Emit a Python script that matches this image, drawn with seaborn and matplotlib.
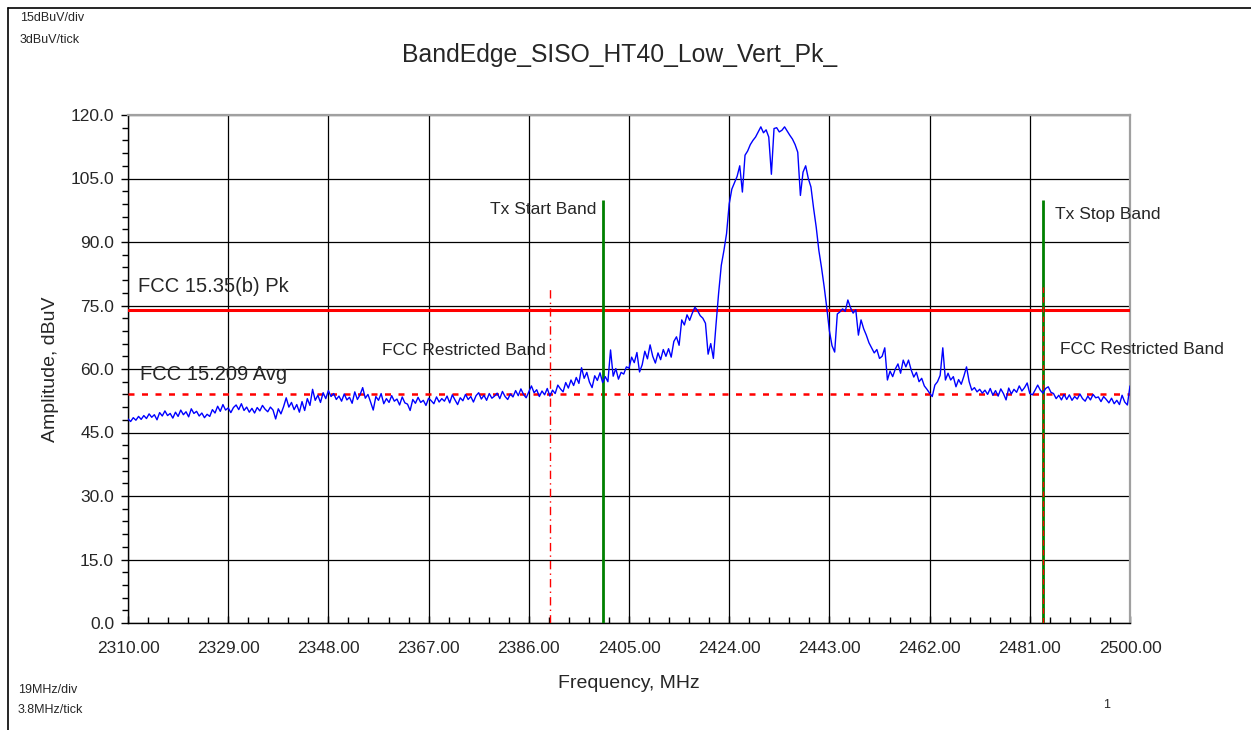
import numpy as np
import pandas as pd
import matplotlib
matplotlib.use("Agg")
import matplotlib.pyplot as plt
from matplotlib.lines import Line2D
from matplotlib.ticker import MultipleLocator, FormatStrFormatter
import seaborn as sns

# Sweep settings (MHz)
f_start = 2310.0
f_stop = 2500.0
f_div = 19.0      # MHz per division
f_tick = 3.8      # MHz per minor tick
a_div = 15.0      # dBuV per division
a_tick = 3.0      # dBuV per minor tick

# Measured peak amplitude (dBuV), one reading every 0.5 MHz from 2310 to 2500 MHz
amplitude = [
    # 2310 - 2320
    48.2, 47.6, 48.5, 47.9, 48.8, 48.1, 49.0, 48.3, 49.4, 48.6, 49.2, 48.0, 49.7, 48.9, 50.1, 49.0, 49.5, 48.4, 49.8, 48.8,
    # 2320 - 2330
    50.3, 49.2, 49.9, 48.7, 50.6, 49.5, 50.0, 48.9, 49.6, 48.5, 49.3, 48.8, 50.4, 49.6, 51.2, 50.0, 51.6, 50.3, 50.8, 49.7,
    # 2330 - 2340
    50.9, 51.5, 50.4, 51.8, 50.2, 51.0, 49.8, 50.7, 49.6, 50.9, 50.1, 51.4, 50.5, 49.9, 51.0, 50.3, 48.2, 50.6, 49.4, 51.1,
    # 2340 - 2350
    53.2, 51.0, 52.1, 50.4, 51.6, 49.8, 52.3, 50.2, 53.0, 51.4, 55.2, 52.6, 53.8, 52.1, 54.4, 53.0, 54.9, 53.5, 54.2, 52.8,
    # 2350 - 2360
    53.6, 52.4, 54.1, 52.7, 53.3, 51.9, 54.6, 52.8, 53.9, 55.6, 53.1, 54.0, 52.2, 50.3, 53.5, 52.6, 54.2, 51.8, 53.0, 52.1,
    # 2360 - 2370
    53.7, 52.4, 52.9, 51.5, 53.4, 52.0, 51.7, 50.2, 52.8, 51.9, 53.3, 52.1, 52.6, 51.4, 53.1, 52.5, 51.8, 53.4, 52.2, 53.0,
    # 2370 - 2380
    52.4, 53.6, 52.0, 53.9, 52.7, 51.6, 53.2, 52.5, 54.0, 52.8, 53.5, 52.2, 53.7, 54.4, 52.9, 53.8, 52.6, 54.2, 53.1, 53.6,
    # 2380 - 2390
    54.3, 53.0, 54.7, 53.5, 52.8, 54.1, 53.4, 54.9, 53.7, 55.3, 54.0, 53.2, 54.6, 56.0, 54.4, 55.1, 53.5, 54.8, 53.9, 55.4,
    # 2390 - 2400
    53.6, 55.0, 54.2, 56.2, 55.3, 54.6, 56.8, 55.5, 57.4, 56.1, 58.0, 56.6, 60.3, 57.8, 59.2, 56.9, 55.6, 58.4, 57.3, 59.1,
    # 2400 - 2410
    56.8, 58.2, 57.0, 64.5, 58.3, 60.1, 57.6, 59.2, 58.8, 60.5, 60.2, 62.8, 61.5, 63.9, 59.3, 61.0, 64.2, 62.4, 65.7, 63.0,
    # 2410 - 2420
    61.4, 63.8, 62.2, 64.6, 63.0, 64.8, 62.8, 66.5, 67.6, 65.6, 71.6, 70.4, 72.8, 71.5, 73.2, 74.6, 73.8, 72.6, 72.0, 70.8,
    # 2420 - 2430
    63.5, 66.0, 62.5, 70.5, 78.0, 84.5, 88.0, 92.0, 99.0, 102.5, 104.0, 105.5, 108.0, 101.8, 110.5, 111.5, 113.0, 114.0, 114.8, 116.0,
    # 2430 - 2440
    117.2, 115.8, 116.5, 114.8, 106.0, 116.8, 117.0, 116.0, 116.4, 117.2, 116.2, 115.2, 114.3, 113.0, 111.2, 101.0, 106.5, 108.0, 105.0, 103.0,
    # 2440 - 2450
    98.0, 93.5, 88.0, 84.0, 79.5, 74.5, 69.0, 65.5, 64.0, 73.0, 73.5, 74.2, 73.6, 76.3, 74.5, 73.2, 74.0, 68.0, 71.6, 69.5,
    # 2450 - 2460
    68.0, 66.2, 65.0, 63.8, 64.6, 62.5, 63.0, 65.0, 57.4, 59.5, 58.2, 60.0, 61.2, 59.0, 62.1, 60.5, 62.1, 59.8, 58.1, 59.2,
    # 2460 - 2470
    57.0, 57.8, 56.0, 55.2, 54.3, 53.5, 56.2, 57.0, 58.5, 65.0, 57.4, 59.0, 57.4, 58.2, 55.8, 57.5, 56.4, 58.3, 60.5, 57.0,
    # 2470 - 2480
    55.0, 55.6, 54.6, 55.2, 54.3, 55.0, 54.0, 55.4, 53.8, 54.9, 53.6, 55.3, 54.2, 52.7, 55.5, 54.1, 55.2, 54.5, 56.0, 54.8,
    # 2480 - 2490
    55.6, 56.7, 54.2, 53.9, 55.0, 56.2, 55.0, 54.3, 55.4, 55.8, 54.5, 54.2, 53.0, 53.8, 52.7, 54.0, 52.8, 53.9, 52.6, 53.5,
    # 2490 - 2500
    52.9, 54.1, 53.0, 52.4, 53.6, 52.7, 54.0, 53.2, 53.4, 52.3, 53.5, 52.8, 52.0, 53.1, 51.8, 52.6, 51.6, 53.8, 52.2, 51.5,
    56.0,
]

# Limit lines (dBuV)
limit_peak = 74.0
limit_avg = 54.0

# Band markers (MHz) and their heights (dBuV)
restricted_edges = [2390.0, 2483.5]
restricted_height = 79.5
tx_band_edges = [2400.0, 2483.5]
tx_band_height = 100.0

title = "BandEdge_SISO_HT40_Low_Vert_Pk_"

freq = np.linspace(f_start, f_stop, len(amplitude))
df = pd.DataFrame({"Frequency, MHz": freq, "Amplitude, dBuV": amplitude})

sns.set_theme(style="white")
plt.rcParams["font.family"] = ["Liberation Sans", "DejaVu Sans"]

fig = plt.figure(figsize=(12.51, 7.30), dpi=100)
ax = fig.add_axes([128 / 1251, 107 / 730, 1002 / 1251, 508 / 730])

# grid: divisions are counted from the start of the sweep
ax.set_xlim(f_start, f_stop)
ax.set_ylim(0, 120)
ax.xaxis.set_major_locator(MultipleLocator(f_div, offset=f_start % f_div))
ax.xaxis.set_minor_locator(MultipleLocator(f_tick, offset=f_start % f_tick))
ax.yaxis.set_major_locator(MultipleLocator(a_div))
ax.yaxis.set_minor_locator(MultipleLocator(a_tick))
ax.xaxis.set_major_formatter(FormatStrFormatter("%.2f"))
ax.yaxis.set_major_formatter(FormatStrFormatter("%.1f"))
ax.grid(True, which="major", color="black", linewidth=0.9)
ax.set_axisbelow(True)

# limit lines
ax.axhline(limit_peak, color="#ff0000", linewidth=2.2, zorder=3)
ax.axhline(limit_avg, color="#ff0000", linewidth=1.8, dashes=(2.4, 3.0), zorder=3)

# band edge markers
ax.vlines(tx_band_edges, 0, tx_band_height, color="#008000", linewidth=2.0, zorder=3)
ax.vlines(restricted_edges[0], 0, restricted_height, color="#ff0000",
          linewidth=1.0, linestyles=(0, (6, 3, 1, 3)), zorder=3)
ax.vlines(restricted_edges[1], 0, restricted_height, color="#ff0000",
          linewidth=1.0, linestyles=(0, (4, 3)), zorder=4)

# measured trace
sns.lineplot(data=df, x="Frequency, MHz", y="Amplitude, dBuV", color="#0000ff",
             linewidth=1.0, estimator=None, ax=ax, zorder=5)

ax.set_xlabel("Frequency, MHz", fontsize=14, labelpad=14)
ax.set_ylabel("Amplitude, dBuV", fontsize=14, labelpad=8)

ax.tick_params(axis="y", which="major", direction="out", length=5, width=1,
               color="black", labelsize=12.5, pad=5, left=True)
ax.tick_params(axis="y", which="minor", direction="out", length=4, width=1,
               color="black", left=True)
ax.tick_params(axis="x", which="major", direction="in", length=5, width=1,
               color="black", labelsize=12.5, pad=13, bottom=True)
ax.tick_params(axis="x", which="minor", direction="in", length=4, width=1,
               color="black", bottom=True)

for side in ("left", "bottom"):
    ax.spines[side].set_color("black")
    ax.spines[side].set_linewidth(1.0)
for side in ("top", "right"):
    ax.spines[side].set_color("#a0a0a0")
    ax.spines[side].set_linewidth(1.6)

# annotations
ax.text(2311.9, 79.4, "FCC 15.35(b) Pk", fontsize=14.5, va="center", ha="left")
ax.text(2312.3, 58.6, "FCC 15.209 Avg", fontsize=14.5, va="center", ha="left")
ax.text(2389.3, 64.3, "FCC Restricted Band", fontsize=12.5, va="center", ha="right")
ax.text(2398.9, 97.6, "Tx Start Band", fontsize=12.5, va="center", ha="right")
ax.text(2485.8, 96.6, "Tx Stop Band", fontsize=12.5, va="center", ha="left")
ax.text(2486.7, 64.7, "FCC Restricted Band", fontsize=12.5, va="center", ha="left")

fig.text(620 / 1251, 1 - 55 / 730, title, fontsize=17.8, ha="center", va="center")
fig.text(20 / 1251, 1 - 18 / 730, "15dBuV/div", fontsize=9, ha="left", va="center")
fig.text(20 / 1251, 1 - 40 / 730, "3dBuV/tick", fontsize=9, ha="left", va="center")
fig.text(18 / 1251, 1 - 690 / 730, "19MHz/div", fontsize=9, ha="left", va="center")
fig.text(18 / 1251, 1 - 710 / 730, "3.8MHz/tick", fontsize=9, ha="left", va="center")
fig.text(1107 / 1251, 1 - 705 / 730, "1", fontsize=9, ha="center", va="center")

# page frame
fig.add_artist(Line2D([8 / 1251, 8 / 1251], [0, 1 - 8 / 730], color="black", linewidth=1.2,
                      transform=fig.transFigure))
fig.add_artist(Line2D([8 / 1251, 1], [1 - 8 / 730, 1 - 8 / 730], color="black", linewidth=1.2,
                      transform=fig.transFigure))

fig.savefig("out.png", dpi=100, facecolor="white")
